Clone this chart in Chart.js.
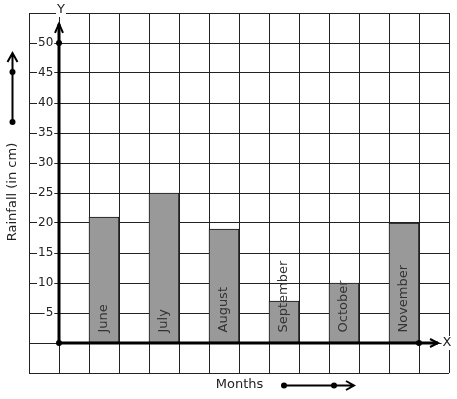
<!DOCTYPE html>
<html>
<head>
<meta charset="utf-8">
<script src="https://cdn.jsdelivr.net/npm/chart.js@4"></script>
<style>
  html, body { margin: 0; padding: 0; background: #fff; }
  #wrap { width: 457px; height: 399px; position: relative; }
</style>
</head>
<body>
<div id="wrap"><canvas id="rainChart"></canvas></div>
<script>
// data
var months = ['June', 'July', 'August', 'September', 'October', 'November'];
var rainfall = [21, 25, 19, 7, 10, 20];
var yTicks = [5, 10, 15, 20, 25, 30, 35, 40, 45, 50];
var slotCount = 14;          // grid columns, one bar every second column
var firstSlot = 2;

var slotLabels = [];
var slotData = [];
for (var i = 0; i < slotCount; i++) {
    slotLabels.push('');
    slotData.push(null);
}
months.forEach(function(m, k) {
    slotLabels[firstSlot + 2 * k] = m;
    slotData[firstSlot + 2 * k] = rainfall[k];
});

var FONT = '"DejaVu Sans", sans-serif';
var INK = '#222';

function dot(ctx, x, y, r) {
    ctx.beginPath();
    ctx.arc(x, y, r, 0, Math.PI * 2);
    ctx.fill();
}

function boxedText(ctx, txt, x, y) {
    var w = ctx.measureText(txt).width;
    ctx.fillStyle = '#fff';
    ctx.fillRect(x - w / 2 - 1, y - 7, w + 2, 14);
    ctx.fillStyle = INK;
    ctx.fillText(txt, x, y);
}

var axesPlugin = {
    id: 'axesDecor',
    afterDatasetsDraw: function(chart) {
        var ctx = chart.ctx;
        var xs = chart.scales.x;
        var ys = chart.scales.y;
        var area = chart.chartArea;
        var ox = (xs.getPixelForValue(0) + xs.getPixelForValue(1)) / 2;
        var oy = ys.getPixelForValue(0);
        var yTop = ys.getPixelForValue(53.2);
        var xEnd = area.right - 11;

        ctx.save();
        ctx.strokeStyle = '#000';
        ctx.fillStyle = '#000';
        ctx.lineCap = 'butt';

        // thick axes
        ctx.lineWidth = 3;
        ctx.beginPath();
        ctx.moveTo(ox, oy);
        ctx.lineTo(ox, yTop);
        ctx.moveTo(ox, oy);
        ctx.lineTo(xEnd, oy);
        ctx.stroke();

        // arrow heads
        ctx.lineWidth = 2;
        ctx.beginPath();
        ctx.moveTo(ox - 4, yTop + 9);
        ctx.lineTo(ox, yTop);
        ctx.lineTo(ox + 4, yTop + 9);
        ctx.moveTo(xEnd - 8, oy - 4);
        ctx.lineTo(xEnd, oy);
        ctx.lineTo(xEnd - 8, oy + 4);
        ctx.stroke();

        dot(ctx, ox, oy, 3);
        dot(ctx, ox, ys.getPixelForValue(50), 3);
        dot(ctx, (xs.getPixelForValue(12) + xs.getPixelForValue(13)) / 2, oy, 3);

        // axis letters
        ctx.font = '13px ' + FONT;
        ctx.textAlign = 'center';
        ctx.textBaseline = 'middle';
        boxedText(ctx, 'Y', ox + 2, 10);
        boxedText(ctx, 'X', area.right - 2, oy);

        // left side arrow
        ctx.strokeStyle = '#000';
        ctx.fillStyle = '#000';
        ctx.lineWidth = 2;
        ctx.beginPath();
        ctx.moveTo(12.5, 122);
        ctx.lineTo(12.5, 54);
        ctx.moveTo(7.5, 62);
        ctx.lineTo(12.5, 53);
        ctx.lineTo(17.5, 62);
        ctx.stroke();
        dot(ctx, 12.5, 122, 3);
        dot(ctx, 12.5, 72, 3);

        // months arrow
        ctx.beginPath();
        ctx.moveTo(284, 385.5);
        ctx.lineTo(353, 385.5);
        ctx.moveTo(346, 381);
        ctx.lineTo(354, 385.5);
        ctx.lineTo(346, 390);
        ctx.stroke();
        dot(ctx, 284, 385.5, 3);
        dot(ctx, 334, 385.5, 3);

        // axis titles
        ctx.fillStyle = INK;
        ctx.font = '13px ' + FONT;
        ctx.textAlign = 'center';
        ctx.textBaseline = 'middle';
        ctx.fillText('Months', 239.5, 385);
        ctx.save();
        ctx.translate(12.5, 192);
        ctx.rotate(-Math.PI / 2);
        ctx.fillText('Rainfall (in cm)', 0, 0);
        ctx.restore();

        // month names inside bars
        var meta = chart.getDatasetMeta(0);
        ctx.fillStyle = '#333';
        ctx.textAlign = 'left';
        meta.data.forEach(function(bar, idx) {
            if (slotData[idx] === null) return;
            ctx.save();
            ctx.translate(bar.x, bar.base - 10);
            ctx.rotate(-Math.PI / 2);
            ctx.fillText(slotLabels[idx], 0, 0);
            ctx.restore();
        });
        ctx.restore();
    }
};

document.addEventListener('DOMContentLoaded', function() {
    var ctx = document.getElementById('rainChart').getContext('2d');
    new Chart(ctx, {
        type: 'bar',
        data: {
            labels: slotLabels,
            datasets: [{
                label: 'Rainfall (in cm)',
                data: slotData,
                backgroundColor: '#999999',
                borderColor: '#111',
                borderWidth: 1,
                borderSkipped: false,
                barPercentage: 1,
                categoryPercentage: 1
            }]
        },
        options: {
            responsive: true,
            maintainAspectRatio: false,
            animation: false,
            layout: { padding: { left: 29, top: 13, right: 8, bottom: 26 } },
            plugins: {
                legend: { display: false },
                tooltip: { enabled: false }
            },
            scales: {
                x: {
                    grid: { color: INK, lineWidth: 1, drawTicks: false },
                    border: { display: false },
                    ticks: { display: false },
                    afterFit: function(s) { s.paddingLeft = 0; s.paddingRight = 0; s.height = 0; }
                },
                y: {
                    min: -5,
                    max: 55,
                    grid: { color: INK, lineWidth: 1, drawTicks: false },
                    border: { display: false },
                    ticks: {
                        stepSize: 5,
                        mirror: true,
                        crossAlign: 'far',
                        padding: 9,
                        color: INK,
                        font: { family: FONT, size: 12 },
                        showLabelBackdrop: true,
                        backdropPadding: { top: 2, bottom: 2, left: 1, right: 1 },
                        backdropColor: function(c) {
                            return c.tick && yTicks.indexOf(c.tick.value) >= 0 ? '#fff' : 'rgba(0,0,0,0)';
                        },
                        callback: function(value) {
                            return yTicks.indexOf(value) >= 0 ? String(value) : '';
                        }
                    },
                    afterFit: function(s) { s.paddingTop = 0; s.paddingBottom = 0; s.width = 0; }
                }
            }
        },
        plugins: [axesPlugin]
    });
});
</script>
</body>
</html>
